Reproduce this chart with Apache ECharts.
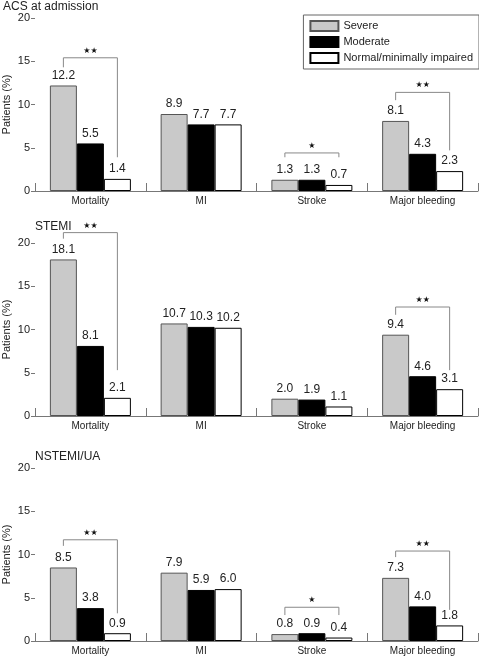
<!DOCTYPE html>
<html><head><meta charset="utf-8">
<script src="https://cdn.jsdelivr.net/npm/echarts@6/dist/echarts.min.js"></script>
<style>html,body{margin:0;padding:0;background:#fff}#c{width:479px;height:656px}</style>
</head><body><div id="c"></div>
<script>
const categories = ['Mortality', 'MI', 'Stroke', 'Major bleeding'];
const seriesNames = ['Severe', 'Moderate', 'Normal/minimally impaired'];
const panelTitles = ['ACS at admission', 'STEMI', 'NSTEMI/UA'];
const yTicks = [0, 5, 10, 15, 20];

const acsSevere = [12.2, 8.9, 1.3, 8.1];
const acsModerate = [5.5, 7.7, 1.3, 4.3];
const acsNormal = [1.4, 7.7, 0.7, 2.3];

const stemiSevere = [18.1, 10.7, 2.0, 9.4];
const stemiModerate = [8.1, 10.3, 1.9, 4.6];
const stemiNormal = [2.1, 10.2, 1.1, 3.1];

const nstemiSevere = [8.5, 7.9, 0.8, 7.3];
const nstemiModerate = [3.8, 5.9, 0.9, 4.0];
const nstemiNormal = [0.9, 6.0, 0.4, 1.8];

// significance brackets: [category index, top, left leg bottom, right leg bottom, marker]
const acsBrackets = [[0, 15.4, 14.3, 3.9, '★★'], [2, 4.4, 3.9, 3.9, '★'], [3, 11.4, 10.5, 4.7, '★★']];
const stemiBrackets = [[0, 21.2, 20.5, 5.3, '★★'], [3, 12.6, 11.7, 5.3, '★★']];
const nstemiBrackets = [[0, 11.7, 11.0, 3.2, '★★'], [2, 3.9, 3.0, 3.0, '★'], [3, 10.4, 9.7, 3.6, '★★']];

const panels = [
  [acsSevere, acsModerate, acsNormal, acsBrackets],
  [stemiSevere, stemiModerate, stemiNormal, stemiBrackets],
  [nstemiSevere, nstemiModerate, nstemiNormal, nstemiBrackets]
];

const FONT = 'Liberation Sans, Arial, sans-serif';
const gridTops = [18, 243, 468];
const gridH = 173;
const barW = 27;
const styles = [
  {color: '#c9c9c9', borderColor: '#555', borderWidth: 1},
  {color: '#000', borderColor: '#000', borderWidth: 1},
  {color: '#fff', borderColor: '#000', borderWidth: 1}
];

const grid = [], xAxis = [], yAxis = [], series = [], title = [];
const titlePos = [{left: 3, top: 1}, {left: 35, top: 221}, {left: 35, top: 451}];
panels.forEach((p, i) => {
  grid.push({left: 35, right: 1, top: gridTops[i], height: gridH, containLabel: false, outerBoundsMode: 'none'});
  title.push({text: panelTitles[i], left: titlePos[i].left, top: titlePos[i].top, padding: 0,
    textStyle: {fontSize: 12, fontWeight: 'normal', color: '#222', fontFamily: FONT}});
  xAxis.push({type: 'category', gridIndex: i, data: categories,
    axisLine: {lineStyle: {color: '#777', width: 1}},
    axisTick: {show: true, inside: true, length: 8, lineStyle: {color: '#777'}},
    axisLabel: {fontSize: 10, color: '#222', margin: 5, fontFamily: FONT}});
  yAxis.push({type: 'value', gridIndex: i, min: 0, max: 20, interval: 5,
    name: 'Patients (%)', nameLocation: 'middle', nameGap: 23, nameMoveOverlap: false,
    nameTextStyle: {fontSize: 11, color: '#222', fontFamily: FONT},
    axisLine: {show: false},
    axisTick: {show: true, length: 4, lineStyle: {color: '#777'}},
    splitLine: {show: false},
    axisLabel: {fontSize: 11, color: '#222', margin: 5, fontFamily: FONT}});
  [p[0], p[1], p[2]].forEach((vals, k) => {
    series.push({type: 'bar', name: seriesNames[k], xAxisIndex: i, yAxisIndex: i,
      data: vals, barWidth: barW, barGap: '0%', itemStyle: styles[k],
      label: {show: true, position: 'top', distance: 4, fontSize: 12, color: '#222', fontFamily: FONT,
        formatter: (d) => d.value.toFixed(1)}});
  });
  series.push({type: 'custom', name: 'sig' + i, xAxisIndex: i, yAxisIndex: i, clip: false,
    silent: true, z: 5,
    encode: {x: 0, y: 1},
    data: p[3],
    renderItem: function (params, api) {
      const cat = api.value(0);
      const top = api.coord([cat, api.value(1)]);
      const lb = api.coord([cat, api.value(2)]);
      const rb = api.coord([cat, api.value(3)]);
      const x1 = top[0] - barW, x2 = top[0] + barW;
      const ls = {stroke: '#888', lineWidth: 1, fill: null};
      return {type: 'group', children: [
        {type: 'polyline', shape: {points: [[x1, lb[1]], [x1, top[1]], [x2, top[1]], [x2, rb[1]]]}, style: ls},
        {type: 'text', x: top[0], y: top[1] - 3, style: {text: p[3][params.dataIndex][4], fontSize: 8,
          fill: '#111', align: 'center', verticalAlign: 'bottom', fontFamily: 'DejaVu Sans'}}
      ]};
    }});
});

const chart = echarts.init(document.getElementById('c'), null, {renderer: 'canvas'});
chart.setOption({
  animation: false,
  backgroundColor: '#fff',
  title: title,
  legend: {data: seriesNames, orient: 'vertical', right: 0, top: 15,
    borderColor: '#666', borderWidth: 1, padding: [5, 6, 5, 6], itemGap: 4,
    itemWidth: 28, itemHeight: 10, icon: 'rect',
    textStyle: {fontSize: 11, color: '#222', fontFamily: FONT}},
  grid: grid, xAxis: xAxis, yAxis: yAxis, series: series
});
</script></body></html>
